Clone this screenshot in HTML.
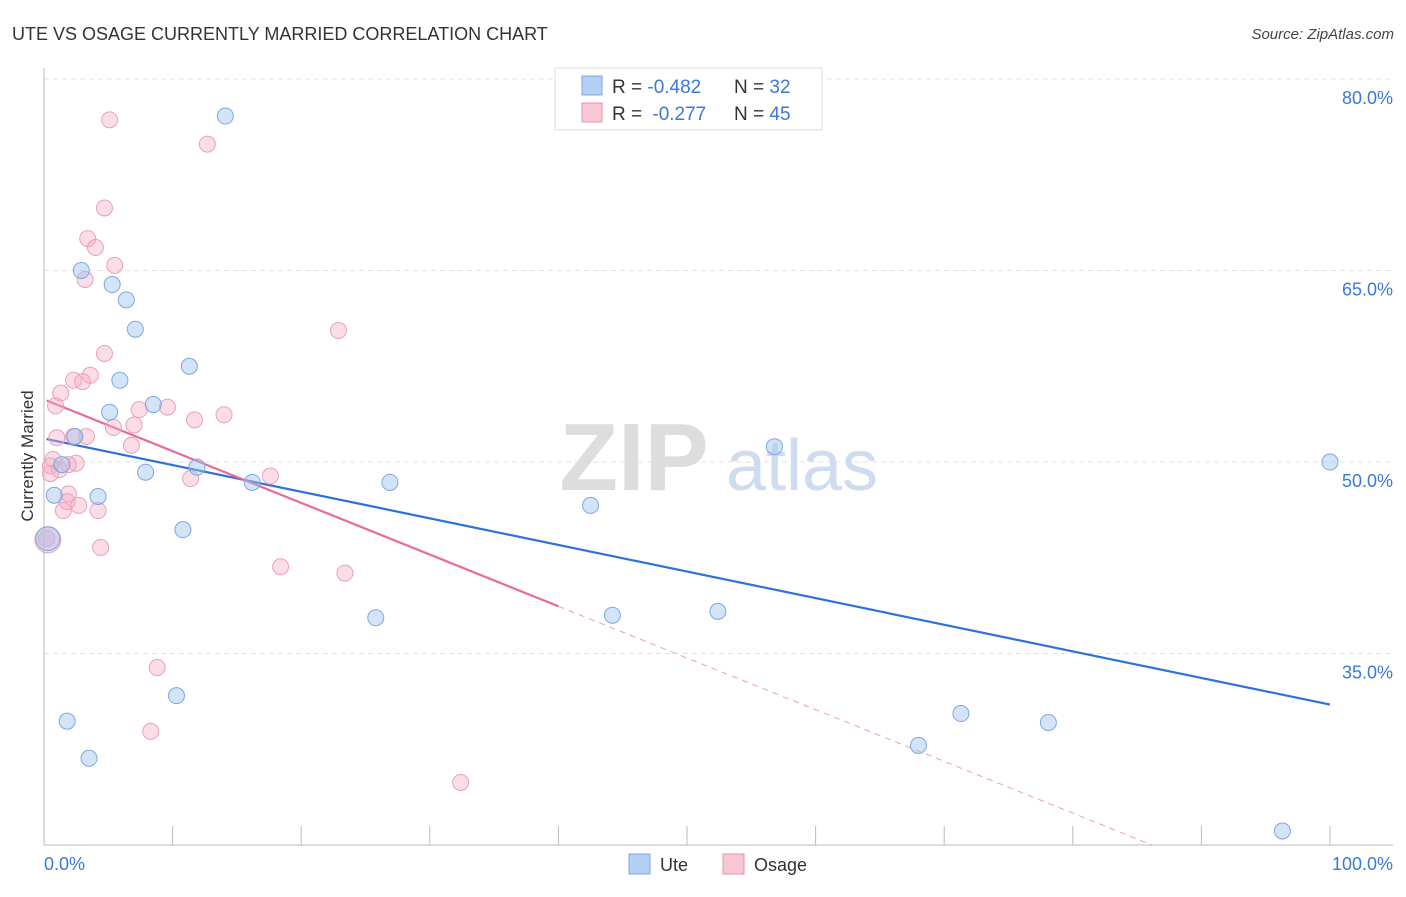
<!DOCTYPE html>
<html><head><meta charset="utf-8"><style>
body{margin:0;background:#fff;font-family:"Liberation Sans",sans-serif}
svg text{font-family:"Liberation Sans",sans-serif}
</style></head><body>
<svg id="chart" width="1406" height="892" viewBox="0 0 1406 892" xmlns="http://www.w3.org/2000/svg">
<text x="12" y="40" font-size="18" fill="#333">UTE VS OSAGE CURRENTLY MARRIED CORRELATION CHART</text>
<text x="1394" y="39" font-size="15" fill="#444" text-anchor="end" font-style="italic">Source: ZipAtlas.com</text>
<g id="grid"></g>
<g>
<text x="634" y="490" font-size="96" fill="#ddd" text-anchor="middle" font-family="Liberation Serif" font-weight="bold">ZIP</text>
<text x="802" y="490" font-size="72" fill="#cfdcf0" text-anchor="middle">atlas</text>
</g>
<line x1="44" y1="68" x2="44" y2="845" stroke="#bbb"/>
<line x1="44" y1="845" x2="1393" y2="845" stroke="#bbb"/>
<g id="xticks"></g>
<g id="ylabels"></g>
<text x="44" y="870" font-size="18" fill="#3b78d8">0.0%</text>
<text x="1393" y="870" font-size="18" fill="#3b78d8" text-anchor="end">100.0%</text>
<text transform="translate(33,456) rotate(-90)" font-size="17" fill="#333" text-anchor="middle">Currently Married</text>
<g id="lines"></g>
<g id="points"></g>
<g>
<rect x="555" y="68" width="267" height="62" fill="#fff" stroke="#ddd"/>
<rect x="582" y="76" width="20" height="19" fill="#b5d0f5" stroke="#7aa8e0"/>
<rect x="582" y="103" width="20" height="19" fill="#f9c6d4" stroke="#e890a8"/>
<text x="612" y="93" font-size="19" fill="#333">R = <tspan fill="#3b78d8">-0.482</tspan><tspan x="734">N = </tspan><tspan fill="#3b78d8">32</tspan></text>
<text x="612" y="120" font-size="19" fill="#333">R = <tspan fill="#3b78d8" dx="5">-0.277</tspan><tspan x="734">N = </tspan><tspan fill="#3b78d8">45</tspan></text>
</g>
<g>
<rect x="629" y="854" width="21" height="20" fill="#b5d0f5" stroke="#7aa8e0"/>
<text x="660" y="871" font-size="18" fill="#333">Ute</text>
<rect x="723" y="854" width="21" height="20" fill="#f9c6d4" stroke="#e890a8"/>
<text x="754" y="871" font-size="18" fill="#333">Osage</text>
</g>
</svg>
<script>
const yTicks=[35,50,65,80];
const xTickVals=[0,10,20,30,40,50,60,70,80,90,100];
const uteX=[14.1,2.9,5.3,6.4,7.1,11.3,5.9,8.5,5.1,2.4,1.4,7.9,11.9,16.2,26.9,0.8,4.2,10.8,42.5,56.8,100,25.8,44.2,52.4,10.3,1.8,3.5,68.0,71.3,78.1,96.3,0.3];
const uteY=[77.1,65.0,63.9,62.7,60.4,57.5,56.4,54.5,53.9,52.0,49.8,49.2,49.6,48.4,48.4,47.4,47.3,44.7,46.6,51.2,50.0,37.8,38.0,38.3,31.7,29.7,26.8,27.8,30.3,29.6,21.1,44.0];
const osX=[5.1,12.7,4.7,3.4,4.0,5.5,3.2,22.9,4.7,3.6,2.3,3.0,1.3,0.9,7.4,9.6,14.0,11.7,7.0,5.4,3.3,2.3,1.0,6.8,0.7,2.5,1.9,0.5,1.2,0.5,17.6,11.4,1.9,1.8,2.7,1.5,4.2,4.4,0.2,18.4,23.4,8.8,8.3,32.4,0.3];
const osY=[76.8,74.9,69.9,67.5,66.8,65.4,64.3,60.3,58.5,56.8,56.4,56.3,55.4,54.4,54.1,54.3,53.7,53.3,52.9,52.7,52.0,52.0,51.9,51.3,50.2,49.9,49.8,49.7,49.4,49.1,48.9,48.7,47.5,46.9,46.6,46.2,46.2,43.3,44.0,41.8,41.3,33.9,28.9,24.9,43.9];
const uteTrend=[51.8,31.0]; // y at x=0.2 and x=100
const osTrend=[54.9,-0.405]; // intercept, slope
const NS='http://www.w3.org/2000/svg';
const X=v=>44+v*12.86, Y=v=>79+(80-v)*12.767;
function mk(t,a,p){const e=document.createElementNS(NS,t);for(const k in a)e.setAttribute(k,a[k]);document.getElementById(p).appendChild(e);return e;}
yTicks.forEach(t=>{
 const g=mk('line',{x1:44,x2:1393,y1:Y(t),y2:Y(t),stroke:'#e2e2e2','stroke-dasharray':'5,4'},'grid');
 
 
 const l=mk('text',{x:1393,y:Y(t)+25,'font-size':18,fill:'#3b78d8','text-anchor':'end'},'ylabels');
 
 
 l.textContent=t.toFixed(1)+'%';
});
xTickVals.forEach(t=>{
 const e=mk('line',{x1:X(t),x2:X(t),y1:826,y2:845,stroke:'#bbb'},'xticks');
 
 
});
let e=mk('line',{x1:X(0.2),y1:Y(uteTrend[0]),x2:X(100),y2:Y(uteTrend[1]),stroke:'#2f72d6','stroke-width':2.2},'lines');


const oy=x=>osTrend[0]+osTrend[1]*x;
e=mk('line',{x1:X(0.2),y1:Y(oy(0.2)),x2:X(40),y2:Y(oy(40)),stroke:'#e8699a','stroke-width':2.2},'lines');


const xe=(20-osTrend[0])/osTrend[1];
e=mk('line',{x1:X(40),y1:Y(oy(40)),x2:X(xe),y2:Y(20),stroke:'#e8a0b8','stroke-width':1,'stroke-dasharray':'6,5'},'lines');


osX.forEach((v,i)=>{
 const r=i===osX.length-1?13:8;
 const c=mk('circle',{cx:X(v),cy:Y(osY[i]),r:r,fill:'rgba(245,170,195,0.4)',stroke:'#eaa0b8','stroke-width':1},'points');
 
 
});
uteX.forEach((v,i)=>{
 const r=i===uteX.length-1?12:8;
 const c=mk('circle',{cx:X(v),cy:Y(uteY[i]),r:r,fill:'rgba(160,195,240,0.45)',stroke:'#7aa8e0','stroke-width':1},'points');
 
 
});
</script>
</body></html>
